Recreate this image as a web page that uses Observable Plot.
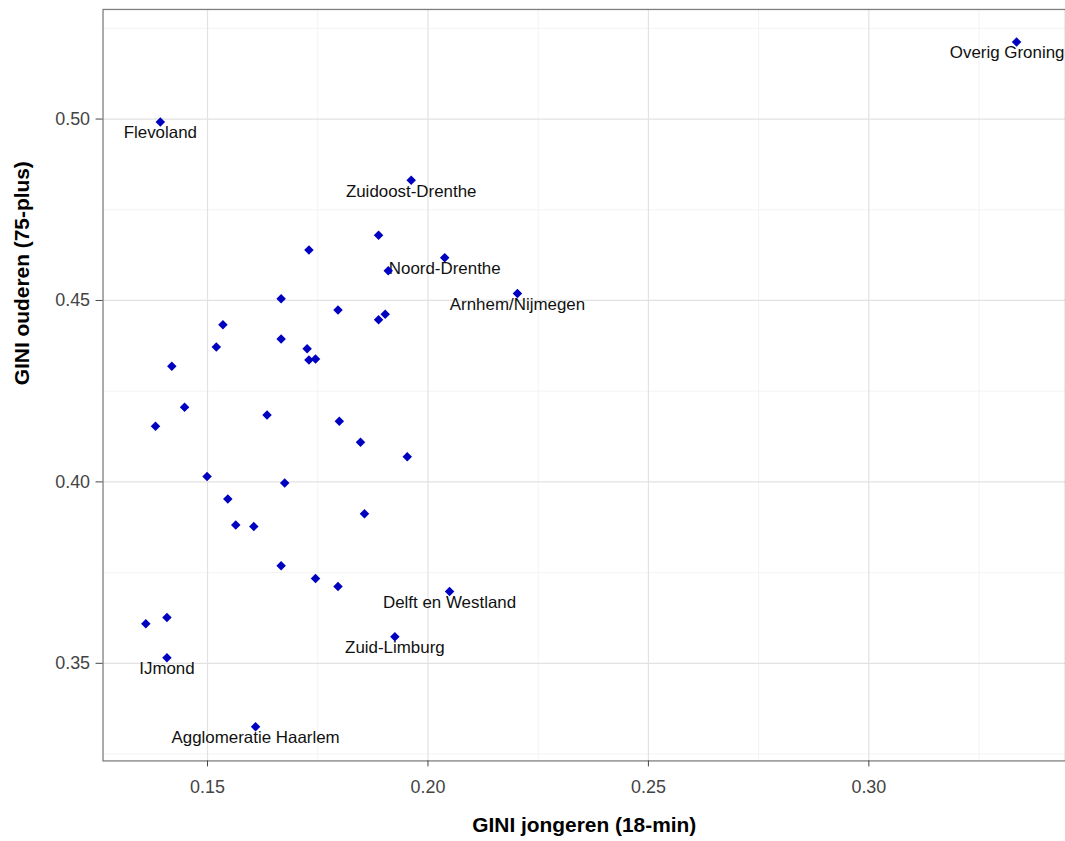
<!DOCTYPE html>
<html>
<head>
<meta charset="utf-8">
<script src="https://cdn.jsdelivr.net/npm/d3@7"></script>
<script src="https://cdn.jsdelivr.net/npm/@observablehq/plot@0.6"></script>
<style>
html, body { margin: 0; padding: 0; background: #fff; overflow: hidden; }
#chart svg { display: block; }
</style>
</head>
<body>
<div id="chart"></div>
<script>
// Regions (only labelled ones carry a name)
const regio = [
  "Overig Groningen", "Flevoland", "Zuidoost-Drenthe", "", "", "Noord-Drenthe", "", "Arnhem/Nijmegen",
  "", "", "", "", "", "", "", "", "", "", "", "",
  "", "", "", "", "", "", "", "", "", "", "",
  "", "", "", "Delft en Westland", "Zuid-Limburg", "", "", "IJmond", "Agglomeratie Haarlem"
];
const giniJongeren = [
  0.3335, 0.1393, 0.1962, 0.1888, 0.1730, 0.2038, 0.1910, 0.2203,
  0.1667, 0.1796, 0.1888, 0.1903, 0.1535, 0.1520, 0.1667, 0.1726, 0.1730, 0.1745, 0.1419, 0.1448,
  0.1382, 0.1635, 0.1799, 0.1847, 0.1953, 0.1499, 0.1675, 0.1546, 0.1564, 0.1605, 0.1856,
  0.1667, 0.1745, 0.1796, 0.2049, 0.1925, 0.1360, 0.1408, 0.1408, 0.1609
];
const giniOuderen = [
  0.5212, 0.4992, 0.4831, 0.4680, 0.4639, 0.4618, 0.4582, 0.4519,
  0.4505, 0.4474, 0.4447, 0.4462, 0.4433, 0.4372, 0.4394, 0.4367, 0.4336, 0.4339, 0.4319, 0.4206,
  0.4153, 0.4184, 0.4167, 0.4109, 0.4069, 0.4015, 0.3997, 0.3953, 0.3881, 0.3877, 0.3912,
  0.3769, 0.3734, 0.3712, 0.3698, 0.3573, 0.3609, 0.3626, 0.3515, 0.3325
];
const xTicks = [0.15, 0.20, 0.25, 0.30];
const yTicks = [0.35, 0.40, 0.45, 0.50];
const xMinor = [0.175, 0.225, 0.275, 0.325];
const yMinor = [0.325, 0.375, 0.425, 0.475, 0.525];
const xTitle = "GINI jongeren (18-min)";
const yTitle = "GINI ouderen (75-plus)";

const data = regio.map((r, i) => ({regio: r, x: giniJongeren[i], y: giniOuderen[i]}));
const labelled = data.filter(d => d.regio !== "");

const font = "'Liberation Sans', Arial, sans-serif";

const chart = Plot.plot({
  width: 1070,
  height: 841,
  marginLeft: 103,
  marginRight: 0,
  marginTop: 9,
  marginBottom: 77,
  style: {fontFamily: font, background: "#fff"},
  x: {domain: [0.1263, 0.3446]},
  y: {domain: [0.3231, 0.5302]},
  marks: [
    Plot.gridX(xMinor, {stroke: "#f3f3f3", strokeOpacity: 1, strokeWidth: 1}),
    Plot.gridY(yMinor, {stroke: "#f3f3f3", strokeOpacity: 1, strokeWidth: 1}),
    Plot.gridX(xTicks, {stroke: "#e2e2e2", strokeOpacity: 1, strokeWidth: 1.2}),
    Plot.gridY(yTicks, {stroke: "#e2e2e2", strokeOpacity: 1, strokeWidth: 1.2}),
    Plot.frame({stroke: "#7f7f7f", strokeWidth: 1.3}),
    Plot.axisX(xTicks, {tickFormat: d3.format(".2f"), tickSize: 6, tickPadding: 13, fontSize: 18, color: "#444", label: null}),
    Plot.axisY(yTicks, {tickFormat: d3.format(".2f"), tickSize: 7, tickPadding: 6, fontSize: 18, color: "#444", label: null}),
    Plot.text([xTitle], {frameAnchor: "bottom", dy: 65, fontSize: 21, fontWeight: "bold", fill: "#000", lineAnchor: "middle"}),
    Plot.text([yTitle], {frameAnchor: "left", dx: -81, rotate: -90, fontSize: 21, fontWeight: "bold", fill: "#000", lineAnchor: "middle"}),
    Plot.text(labelled, {x: "x", y: "y", text: "regio", dy: 11, fontSize: 17, fill: "#111"}),
    Plot.dot(data, {x: "x", y: "y", symbol: "diamond2", r: 4.3, fill: "#0000c0", stroke: null})
  ]
});
document.getElementById("chart").append(chart);
</script>
</body>
</html>
